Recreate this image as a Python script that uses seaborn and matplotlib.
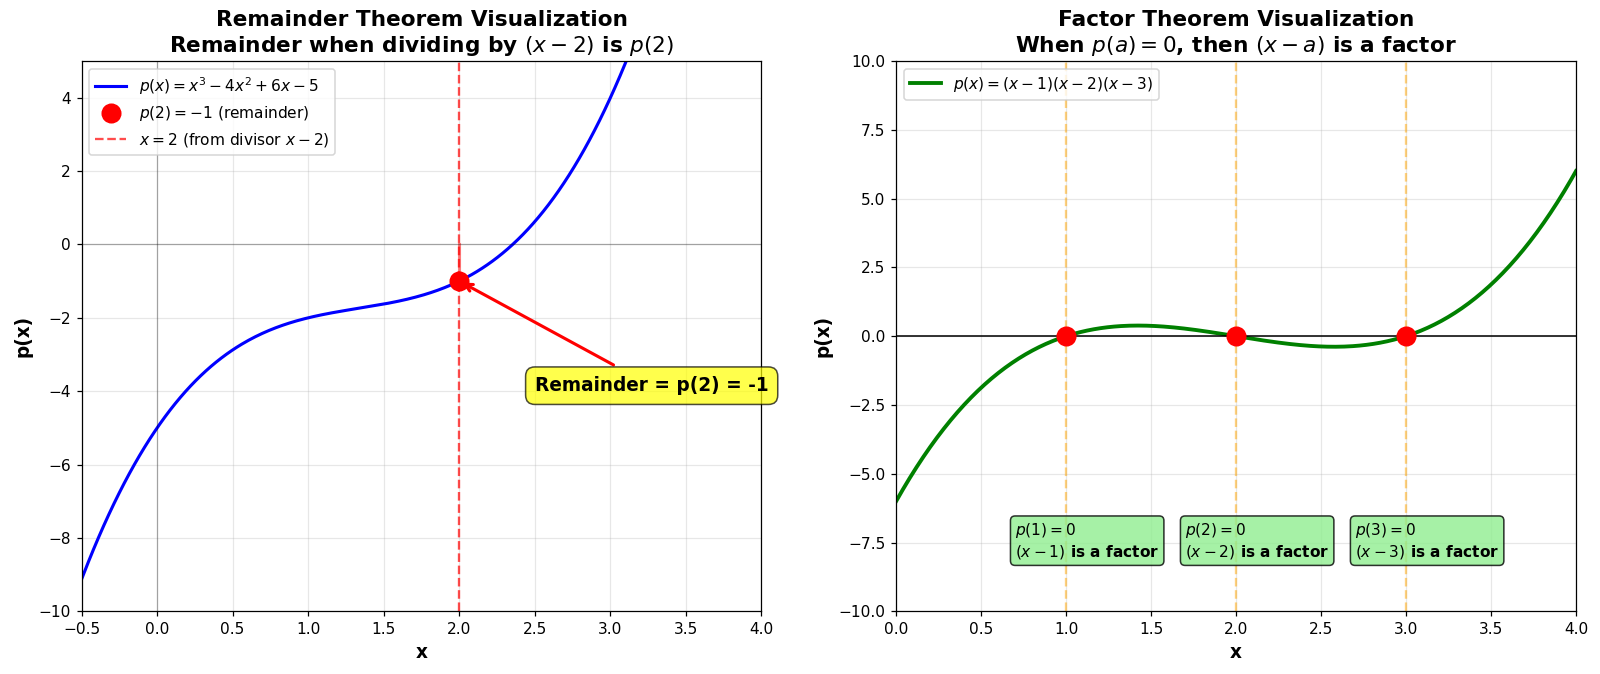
import numpy as np
import pandas as pd
import matplotlib
matplotlib.use("Agg")
import matplotlib.pyplot as plt
import seaborn as sns

# Polynomial coefficients (highest power first)
remainder_coefs = [1, -4, 6, -5]          # x^3 - 4x^2 + 6x - 5
factor_roots = [1, 2, 3]                  # (x-1)(x-2)(x-3)
divisor_root = 2
remainder_value = -1

left_x = np.linspace(-0.5, 4, 400)
right_x = np.linspace(0, 4, 400)

plt.rcParams['font.family'] = ['DejaVu Sans']

DPI = 1600 / 14.4
fig, axes = plt.subplots(1, 2, figsize=(14.4, 674 / DPI), dpi=DPI)
fig.subplots_adjust(left=0.051, right=0.985, bottom=0.093, top=0.9095, wspace=0.198)

# Left: remainder theorem
ax = axes[0]
left_df = pd.DataFrame({'x': left_x, 'y': np.polyval(remainder_coefs, left_x)})
sns.lineplot(data=left_df, x='x', y='y', ax=ax, color='blue', linewidth=2,
             label=r'$p(x) = x^3 - 4x^2 + 6x - 5$')
ax.plot([divisor_root], [remainder_value], 'o', color='red', markersize=12, zorder=5,
        label=r'$p(2) = -1$ (remainder)')
ax.axvline(divisor_root, color='red', linestyle='--', alpha=0.7, linewidth=1.5,
           label=r'$x = 2$ (from divisor $x - 2$)')
ax.plot([divisor_root, divisor_root], [0, remainder_value], color='red', alpha=0.5, linewidth=2)
ax.axhline(0, color='black', alpha=0.3, linewidth=0.8)
ax.axvline(0, color='black', alpha=0.3, linewidth=0.8)
ax.annotate('Remainder = p(2) = -1', xy=(divisor_root, remainder_value), xytext=(2.5, -4),
            fontsize=12, fontweight='bold',
            arrowprops=dict(arrowstyle='->', color='red', lw=2),
            bbox=dict(boxstyle='round,pad=0.5', facecolor='yellow', alpha=0.7))
ax.set_xlim(-0.5, 4)
ax.set_ylim(-10, 5)
ax.grid(True, alpha=0.3)
ax.set_xlabel('x', fontsize=12, fontweight='bold')
ax.set_ylabel('p(x)', fontsize=12, fontweight='bold')
ax.set_title('Remainder Theorem Visualization\nRemainder when dividing by $(x-2)$ is $p(2)$',
             fontsize=14, fontweight='bold')
ax.legend(loc='upper left', fontsize=10)

# Right: factor theorem
ax = axes[1]
right_y = np.ones_like(right_x)
for r in factor_roots:
    right_y = right_y * (right_x - r)
right_df = pd.DataFrame({'x': right_x, 'y': right_y})
sns.lineplot(data=right_df, x='x', y='y', ax=ax, color='green', linewidth=2.5,
             label=r'$p(x) = (x-1)(x-2)(x-3)$')
ax.axhline(0, color='black', linewidth=1)
for r in factor_roots:
    ax.axvline(r, color='orange', linestyle='--', alpha=0.5, linewidth=1.5)
    ax.text(r - 0.3, -8, f'$p({r}) = 0$\n$(x-{r})$ is a factor', fontsize=10,
            fontweight='bold',
            bbox=dict(boxstyle='round', facecolor='lightgreen', alpha=0.8))
roots_df = pd.DataFrame({'x': factor_roots, 'y': [0] * len(factor_roots)})
ax.plot(roots_df['x'], roots_df['y'], 'o', color='red', markersize=12, zorder=5)
ax.set_xlim(0, 4)
ax.set_ylim(-10, 10)
ax.grid(True, alpha=0.3)
ax.set_xlabel('x', fontsize=12, fontweight='bold')
ax.set_ylabel('p(x)', fontsize=12, fontweight='bold')
ax.set_title('Factor Theorem Visualization\nWhen $p(a) = 0$, then $(x-a)$ is a factor',
             fontsize=14, fontweight='bold')
ax.legend(loc='upper left', fontsize=10)

plt.savefig('out.png', dpi=DPI)
